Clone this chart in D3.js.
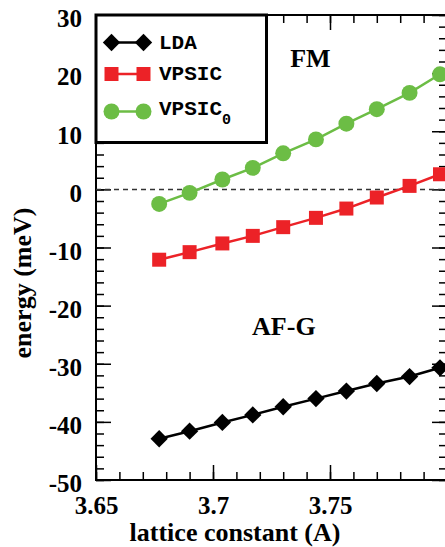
<!DOCTYPE html>
<html>
<head>
<meta charset="utf-8">
<script src="https://cdn.jsdelivr.net/npm/d3@7"></script>
<style>
  html, body { margin: 0; padding: 0; background: #fff; overflow: hidden; }
  .tick text { font-family: "Liberation Serif", "Times New Roman", serif; font-weight: bold; font-size: 25px; fill: #000; }
  .axis-label { font-family: "Liberation Serif", "Times New Roman", serif; font-weight: bold; font-size: 26px; }
  .legend-text { font-family: "Liberation Mono", "Courier New", monospace; font-weight: bold; font-size: 21px; }
</style>
</head>
<body>
<svg id="chart"></svg>
<script>
// data
const latticeConst = [3.677, 3.690, 3.704, 3.717, 3.730, 3.744, 3.757, 3.770, 3.784, 3.797];
const ldaEnergy    = [-42.9, -41.6, -40.1, -38.8, -37.4, -36.0, -34.7, -33.4, -32.2, -30.7];
const vpsicEnergy  = [-12.1, -10.8, -9.3, -8.0, -6.5, -4.9, -3.3, -1.4, 0.6, 2.6];
const vpsic0Energy = [-2.5, -0.6, 1.7, 3.7, 6.2, 8.6, 11.3, 13.8, 16.6, 19.8];

const xMajorTicks  = [3.65, 3.7, 3.75, 3.8];
const xTickLabels  = ["3.65", "3.7", "3.75", ""];   // 3.8 falls outside the picture
const yMajorTicks  = [30, 20, 10, 0, -10, -20, -30, -40, -50];
const yTickLabels  = ["30", "20", "10", "0", "-10", "-20", "-30", "-40", "-50"];

const W = 445, H = 547;
const margin = { top: 15, right: -2, bottom: 67, left: 96 };
const width  = W - margin.left - margin.right;
const height = H - margin.top  - margin.bottom;

const svg = d3.select("#chart")
  .attr("width", W)
  .attr("height", H)
  .append("g")
    .attr("transform", `translate(${margin.left},${margin.top})`);

// SCALES
const x = d3.scaleLinear().domain([3.65, 3.8]).range([0, width]);
const y = d3.scaleLinear().domain([-50, 30]).range([height, 0]);

const xMinor = d3.range(3.65, 3.8001, 0.01).map(v => +v.toFixed(2));
const yMinor = d3.range(-50, 30.001, 2);

// minor ticks (inward on all four sides)
function minorAxis(g, axis) {
  g.call(axis).call(s => s.select(".domain").remove())
   .call(s => s.selectAll("text").remove())
   .call(s => s.selectAll("line").attr("stroke-width", 1.5));
}
svg.append("g").attr("transform", `translate(0,${height})`)
  .call(g => minorAxis(g, d3.axisBottom(x).tickValues(xMinor).tickSize(-8)));
svg.append("g")
  .call(g => minorAxis(g, d3.axisTop(x).tickValues(xMinor).tickSize(-8)));
svg.append("g")
  .call(g => minorAxis(g, d3.axisLeft(y).tickValues(yMinor).tickSize(-8)));
svg.append("g").attr("transform", `translate(${width},0)`)
  .call(g => minorAxis(g, d3.axisRight(y).tickValues(yMinor).tickSize(-8)));

// major ticks + labels
svg.append("g")
  .attr("transform", `translate(0,${height})`)
  .call(d3.axisBottom(x).tickValues(xMajorTicks).tickSize(-15).tickPadding(16)
    .tickFormat((d, i) => xTickLabels[i]))
  .call(g => g.select(".domain").remove())
  .call(g => g.selectAll("line").attr("stroke-width", 1.5));

svg.append("g")
  .call(d3.axisTop(x).tickValues(xMajorTicks).tickSize(-15).tickFormat(""))
  .call(g => g.select(".domain").remove())
  .call(g => g.selectAll("line").attr("stroke-width", 1.5));

svg.append("g")
  .call(d3.axisLeft(y).tickValues(yMajorTicks).tickSize(-15).tickPadding(14)
    .tickFormat((d, i) => yTickLabels[i]))
  .call(g => g.select(".domain").remove())
  .call(g => g.selectAll("line").attr("stroke-width", 1.5))
  .call(g => g.selectAll("text").attr("dy", "0.47em"));

svg.append("g")
  .attr("transform", `translate(${width},0)`)
  .call(d3.axisRight(y).tickValues(yMajorTicks).tickSize(-15).tickFormat(""))
  .call(g => g.select(".domain").remove())
  .call(g => g.selectAll("line").attr("stroke-width", 1.5));

// frame
svg.append("rect")
  .attr("width", width).attr("height", height)
  .attr("fill", "none").attr("stroke", "#000").attr("stroke-width", 2);

// zero line
svg.append("line")
  .attr("x1", 0).attr("x2", width)
  .attr("y1", y(0)).attr("y2", y(0))
  .attr("stroke", "#333").attr("stroke-width", 1.5)
  .attr("stroke-dasharray", "5,4");

// AXIS LABELS
svg.append("text")
  .attr("class", "axis-label")
  .attr("x", 139).attr("y", height + 61)
  .attr("text-anchor", "middle")
  .text("lattice constant (A)");

svg.append("text")
  .attr("class", "axis-label")
  .attr("transform", "rotate(-90)")
  .attr("x", -268).attr("y", -65)
  .attr("text-anchor", "middle")
  .text("energy (meV)");

// SERIES
const series = [
  { name: "LDA",    vals: ldaEnergy,    color: "#000000", shape: "diamond" },
  { name: "VPSIC",  vals: vpsicEnergy,  color: "#ec2227", shape: "square" },
  { name: "VPSIC0", vals: vpsic0Energy, color: "#6cbd45", shape: "circle" }
];

const symbolSize = { diamond: 150, square: 196, circle: 200 };
const symbolType = { diamond: d3.symbolSquare, square: d3.symbolSquare, circle: d3.symbolCircle };
const symbolRot  = { diamond: 45, square: 0, circle: 0 };

const lineGen = d3.line()
  .x((d, i) => x(latticeConst[i]))
  .y(d => y(d));

series.forEach(s => {
  svg.append("path")
    .datum(s.vals)
    .attr("fill", "none")
    .attr("stroke", s.color)
    .attr("stroke-width", 2.5)
    .attr("d", lineGen);

  svg.append("g").selectAll("path")
    .data(s.vals)
    .enter()
    .append("path")
      .attr("transform", (d, i) => `translate(${x(latticeConst[i])},${y(d)}) rotate(${symbolRot[s.shape]})`)
      .attr("d", d3.symbol().type(symbolType[s.shape]).size(symbolSize[s.shape]))
      .attr("fill", s.color);
});

// ANNOTATIONS
svg.append("text")
  .attr("class", "axis-label")
  .attr("x", x(3.733)).attr("y", y(21))
  .text("FM");

svg.append("text")
  .attr("class", "axis-label")
  .attr("x", x(3.7167)).attr("y", y(-25))
  .text("AF-G");

// LEGEND
const legend = svg.append("g");
legend.append("rect")
  .attr("x", 0).attr("y", 0)
  .attr("width", 170.5).attr("height", 127.5)
  .attr("fill", "#fff").attr("stroke", "#000").attr("stroke-width", 3);

const legendRows = [27.5, 59, 96.5];
series.forEach((s, i) => {
  const ly = legendRows[i];
  const row = legend.append("g").attr("transform", `translate(0,${ly})`);
  row.append("line")
    .attr("x1", 15.5).attr("x2", 47.5)
    .attr("stroke", s.color).attr("stroke-width", 2.5);
  [15.5, 47.5].forEach(px => {
    row.append("path")
      .attr("transform", `translate(${px},0) rotate(${symbolRot[s.shape]})`)
      .attr("d", d3.symbol().type(symbolType[s.shape]).size(symbolSize[s.shape]))
      .attr("fill", s.color);
  });
  const t = row.append("text")
    .attr("class", "legend-text")
    .attr("x", 63).attr("y", i === 2 ? 3 : 6);
  if (s.name === "VPSIC0") {
    t.append("tspan").text("VPSIC");
    t.append("tspan").attr("dy", 9).style("font-size", "15px").text("0");
  } else {
    t.text(s.name);
  }
});
</script>
</body>
</html>
